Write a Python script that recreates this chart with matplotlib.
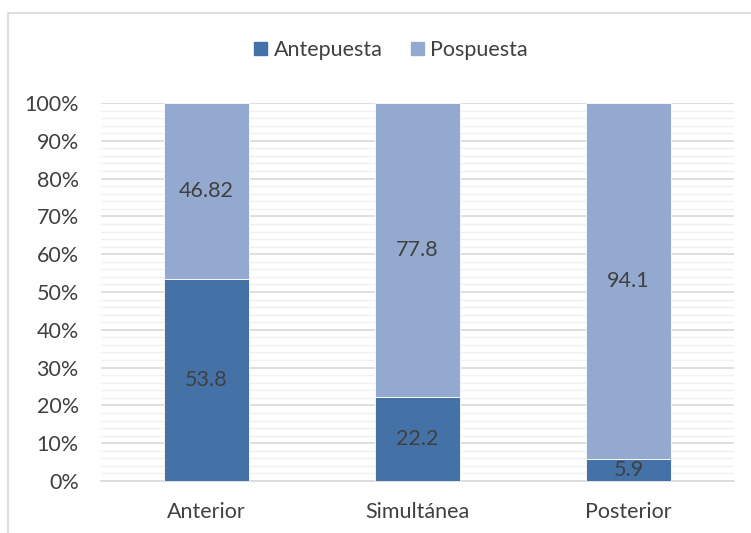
import matplotlib.pyplot as plt
import matplotlib.patches as mpatches
import numpy as np
from matplotlib.ticker import MultipleLocator, PercentFormatter

plt.rcParams['font.family'] = ['Lato', 'DejaVu Sans']

# data
categories = ['Anterior', 'Simultánea', 'Posterior']
antepuesta = [53.8, 22.2, 5.9]
pospuesta = [46.82, 77.8, 94.1]
series_names = ['Antepuesta', 'Pospuesta']

col_ante = '#4472A7'
col_pos = '#94A9CF'
txt = '#404040'
fs = 15.5

ante = np.array(antepuesta)
pos = np.array(pospuesta)
tot = ante + pos
ante_pct = ante / tot * 100
pos_pct = pos / tot * 100

fig = plt.figure(figsize=(7.51, 5.33), dpi=100)
# chart area border
fig.patches.append(mpatches.Rectangle((8 / 751, -0.1), 1.0, (533 - 13) / 533 + 0.1,
                                      transform=fig.transFigure, fill=False,
                                      edgecolor='#d9d9d9', linewidth=1.2))

ax = fig.add_axes([101 / 751, 52 / 533, 633 / 751, 378 / 533])
x = np.arange(len(categories))
ax.bar(x, ante_pct, width=0.4, color=col_ante, edgecolor='white', linewidth=0.6, zorder=3)
ax.bar(x, pos_pct, width=0.4, bottom=ante_pct, color=col_pos, edgecolor='white',
       linewidth=0.6, zorder=3)

for i in range(len(categories)):
    ax.text(x[i], ante_pct[i] / 2, f'{antepuesta[i]:g}', ha='center', va='center',
            fontsize=fs, color=txt, zorder=4)
    ax.text(x[i], ante_pct[i] + pos_pct[i] / 2, f'{pospuesta[i]:g}', ha='center',
            va='center', fontsize=fs, color=txt, zorder=4)

ax.set_xlim(-0.5, 2.5)
ax.set_ylim(0, 100)
ax.yaxis.set_major_locator(MultipleLocator(10))
ax.yaxis.set_minor_locator(MultipleLocator(2))
ax.yaxis.set_major_formatter(PercentFormatter(decimals=0))
ax.grid(axis='y', which='major', color='#d9d9d9', linewidth=1.2, zorder=0)
ax.grid(axis='y', which='minor', color='#f0f0f0', linewidth=1.0, zorder=0)
ax.set_axisbelow(True)
for s in ['top', 'right', 'left']:
    ax.spines[s].set_visible(False)
ax.spines['bottom'].set_color('#d9d9d9')
ax.spines['bottom'].set_linewidth(1.2)
ax.tick_params(axis='both', which='both', length=0, labelsize=fs, labelcolor=txt)
ax.tick_params(axis='y', pad=16)
ax.tick_params(axis='x', pad=15)
ax.set_xticks(x)
ax.set_xticklabels(categories)

handles = [mpatches.Patch(color=col_ante), mpatches.Patch(color=col_pos)]
fig.legend(handles, series_names, loc='center', bbox_to_anchor=(391 / 751, 1 - 50 / 533),
           ncol=2, frameon=False, fontsize=fs, labelcolor=txt, handlelength=0.6,
           handleheight=0.6, handletextpad=0.3, columnspacing=1.3)

fig.savefig('out.png', dpi=100)
